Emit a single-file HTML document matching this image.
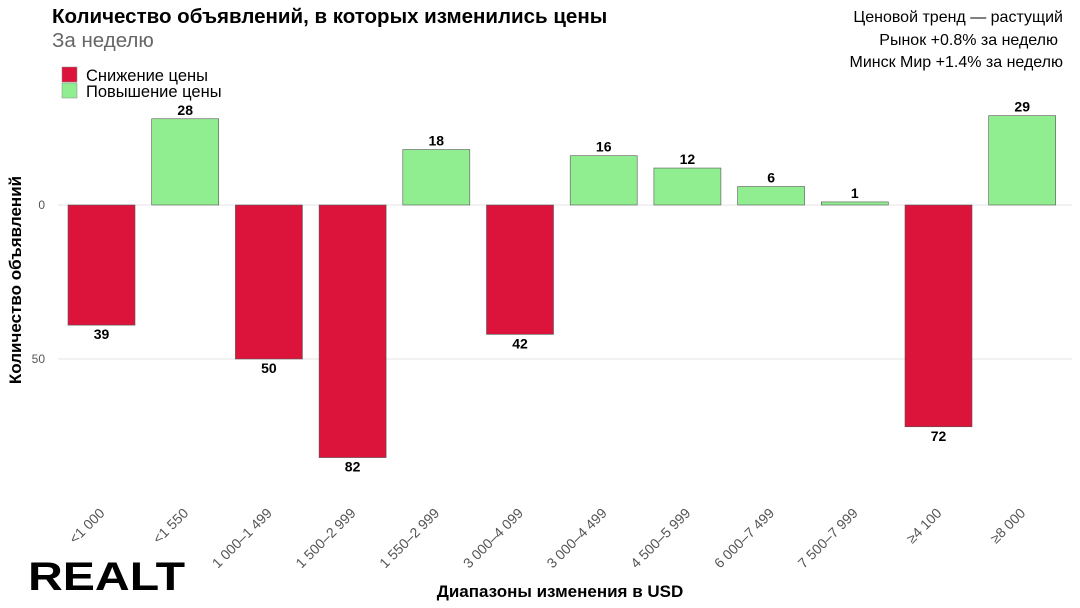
<!DOCTYPE html>
<html><head><meta charset="utf-8"><style>
body{margin:0;background:#fff;}
svg{display:block;font-family:"Liberation Sans",sans-serif;}
</style></head><body>
<svg width="1080" height="608" viewBox="0 0 1080 608">
<text x="52" y="23" font-size="20.5" font-weight="bold" fill="#000">Количество объявлений, в которых изменились цены</text>
<text x="52" y="47" font-size="20.5" fill="#666">За неделю</text>
<g font-size="16" fill="#000" text-anchor="end">
<text x="1063" y="22">Ценовой тренд — растущий</text>
<text x="1058" y="45">Рынок +0.8% за неделю</text>
<text x="1063" y="67">Минск Мир +1.4% за неделю</text>
</g>
<rect x="62" y="67" width="15" height="15" fill="#dc143c" stroke="#888" stroke-width="0.5"/>
<rect x="62" y="83" width="15" height="15" fill="#90ee90" stroke="#888" stroke-width="0.5"/>
<text x="86" y="81" font-size="16.5" fill="#000">Снижение цены</text>
<text x="86" y="97" font-size="16.5" fill="#000">Повышение цены</text>
<line x1="58" y1="205" x2="1072" y2="205" stroke="#e5e5e5"/>
<line x1="58" y1="359" x2="1072" y2="359" stroke="#e5e5e5"/>
<text x="45" y="209" font-size="12" fill="#555" text-anchor="end">0</text>
<text x="45" y="363" font-size="12" fill="#555" text-anchor="end">50</text>
<text transform="translate(21,280) rotate(-90)" font-size="17" font-weight="bold" text-anchor="middle">Количество объявлений</text>
<g id="bars" stroke="#555" stroke-width="0.6"></g>
<g font-size="14" font-weight="bold" text-anchor="middle" id="vals"></g>
<g font-size="14" fill="#555" text-anchor="end" id="xl"></g>
<text x="560" y="597" font-size="17" font-weight="bold" text-anchor="middle">Диапазоны изменения в USD</text>
<text x="28" y="590" font-size="40" font-weight="bold" textLength="157" lengthAdjust="spacingAndGlyphs">REALT</text>
<script>
var d=[-39,28,-50,-82,18,-42,16,12,6,1,-72,29];
var l=["<1 000","<1 550","1 000–1 499","1 500–2 999","1 550–2 999","3 000–4 099","3 000–4 499","4 500–5 999","6 000–7 499","7 500–7 999","≥4 100","≥8 000"];
var ns="http://www.w3.org/2000/svg",s=3.08,b=document.getElementById('bars'),v=document.getElementById('vals'),x=document.getElementById('xl');
d.forEach(function(val,i){
 var c=101.5+83.7*i,h=Math.abs(val)*s;
 var r=document.createElementNS(ns,'rect');
 r.setAttribute('x',c-33.5);r.setAttribute('width',67);
 r.setAttribute('y',val>0?205-h:205);r.setAttribute('height',h);
 r.setAttribute('fill',val>0?'#90ee90':'#dc143c');b.appendChild(r);
 var t=document.createElementNS(ns,'text');t.setAttribute('x',c);
 t.setAttribute('y',val>0?205-h-4:205+h+14);t.textContent=Math.abs(val);v.appendChild(t);
 var q=document.createElementNS(ns,'text');
 q.setAttribute('transform','translate('+(c+4)+',514) rotate(-45)');q.textContent=l[i];x.appendChild(q);
});
</script>
</svg>
</body></html>
